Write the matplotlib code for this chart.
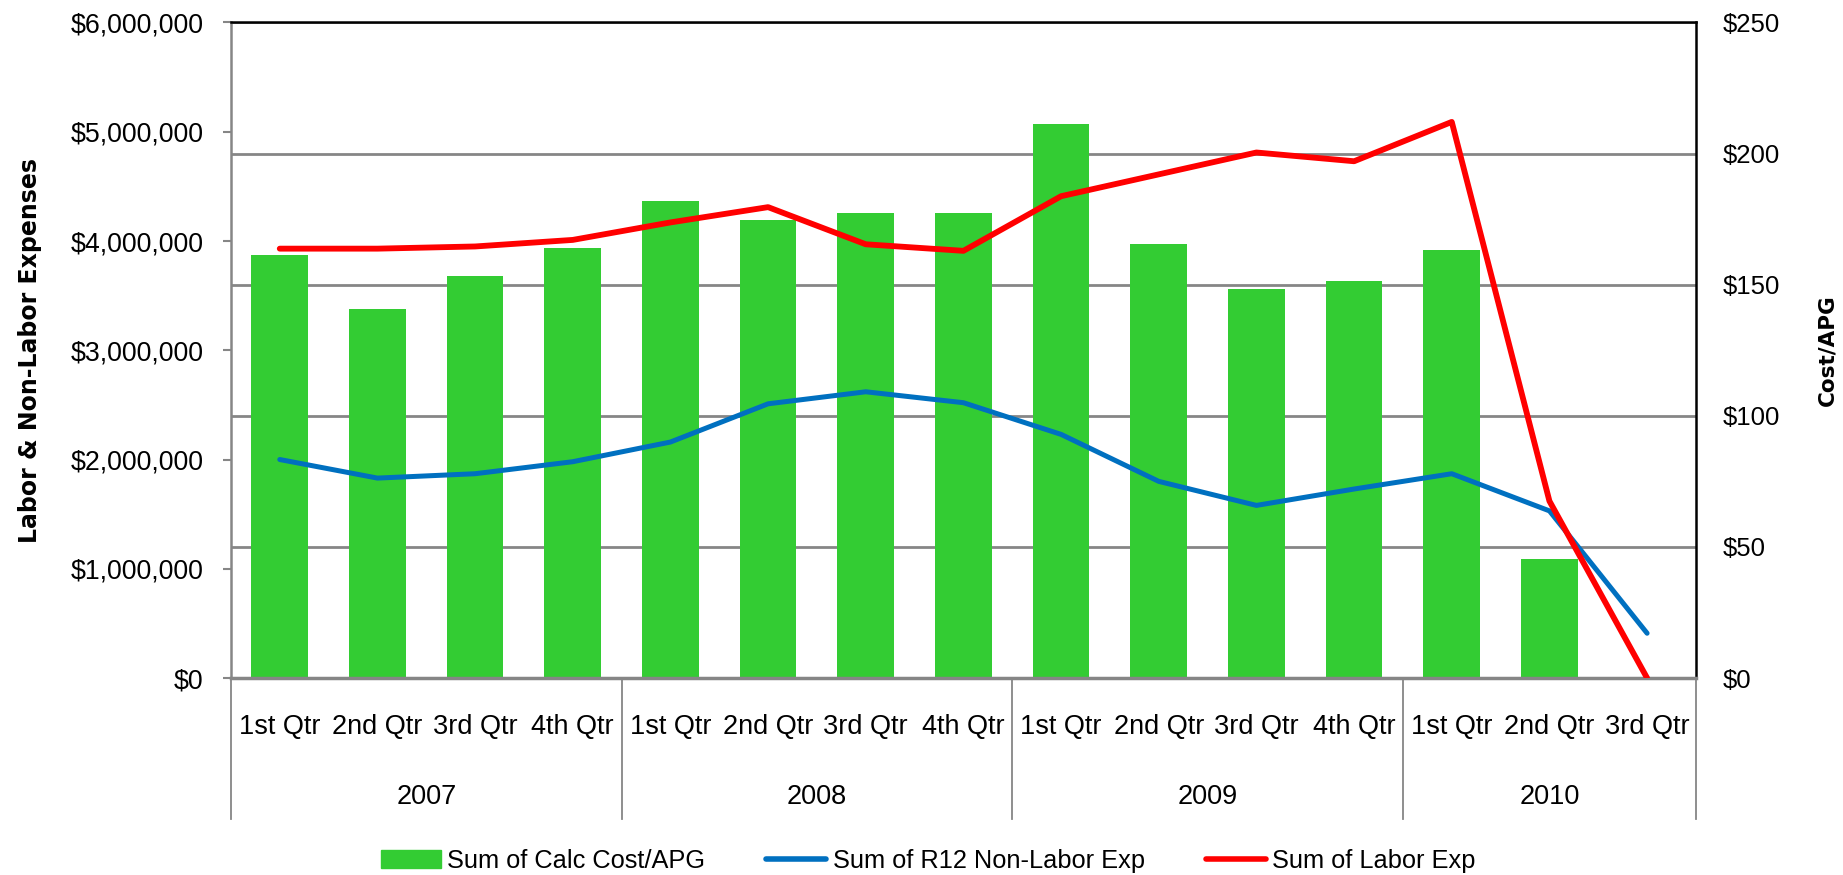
import numpy as np
import matplotlib.pyplot as plt
import matplotlib.transforms as mtransforms
from matplotlib.patches import Patch
from matplotlib.lines import Line2D

plt.rcParams['font.family'] = ['Liberation Sans', 'DejaVu Sans']

# data
years = ['2007', '2008', '2009', '2010']
year_sizes = [4, 4, 4, 3]
quarters = ['1st Qtr', '2nd Qtr', '3rd Qtr', '4th Qtr'] * 3 + ['1st Qtr', '2nd Qtr', '3rd Qtr']
cost_apg = [161.5, 140.7, 153.2, 163.9, 182.1, 174.8, 177.4, 177.4,
            211.2, 165.6, 148.2, 151.5, 163.2, 45.5, 0]
non_labor = [2.00e6, 1.83e6, 1.87e6, 1.98e6, 2.16e6, 2.51e6, 2.62e6, 2.52e6,
             2.23e6, 1.80e6, 1.58e6, 1.73e6, 1.87e6, 1.53e6, 0.41e6]
labor = [3.93e6, 3.93e6, 3.95e6, 4.01e6, 4.17e6, 4.31e6, 3.97e6, 3.91e6,
         4.41e6, 4.61e6, 4.81e6, 4.73e6, 5.09e6, 1.62e6, 0.0]

green = '#33CC33'
blue = '#0070C0'
red = '#FF0000'
gray = '#868686'

fig = plt.figure(figsize=(18.43, 8.75), dpi=100)
ax = fig.add_axes([0.1253, 0.2251, 0.7949, 0.7492])
ax2 = ax.twinx()
ax.set_zorder(2)
ax2.set_zorder(1)
ax.patch.set_visible(False)

x = np.arange(len(quarters))

# bars on the right axis
ax2.bar(x, cost_apg, width=0.58, color=green, zorder=2)
ax2.set_ylim(0, 250)
rticks = np.arange(0, 251, 50)
ax2.set_yticks(rticks)
ax2.set_yticklabels(['${:,.0f}'.format(v) for v in rticks], fontsize=18.5)
ax2.tick_params(axis='y', length=0, pad=19)
ax2.yaxis.grid(True, color=gray, lw=2)
ax2.set_axisbelow(True)
ax2.set_ylabel('Cost/APG', fontsize=15.5, fontweight='bold', family='DejaVu Sans')
ax2.yaxis.set_label_coords(1.0826, 0.5)
for s in ax2.spines.values():
    s.set_visible(False)

# lines on the left axis
ax.plot(x, non_labor, color=blue, lw=3.6, solid_capstyle='round', zorder=3)
ax.plot(x, labor, color=red, lw=4.2, solid_capstyle='round', zorder=4)
ax.set_ylim(0, 6e6)
ax.set_xlim(-0.5, len(quarters) - 0.5)
ticks = np.arange(0, 6e6 + 1, 1e6)
ax.set_yticks(ticks)
ax.set_yticklabels(['${:,.0f}'.format(v) for v in ticks], fontsize=19.3)
ax.tick_params(axis='y', length=5.8, width=1.5, color=gray, direction='out', pad=14)
ax.set_ylabel('Labor & Non-Labor Expenses', fontsize=17, fontweight='bold', family='DejaVu Sans')
ax.yaxis.set_label_coords(-0.129, 0.5)
ax.set_xticks([])
ax.spines['left'].set_color(gray)
ax.spines['left'].set_linewidth(1.8)
ax.spines['bottom'].set_color(gray)
ax.spines['bottom'].set_linewidth(2.5)
ax.spines['top'].set_color('black')
ax.spines['top'].set_linewidth(1.8)
ax.spines['right'].set_color('black')
ax.spines['right'].set_linewidth(1.8)

# multi-level category axis
trans = mtransforms.blended_transform_factory(ax.transData, ax.transAxes)
for i, q in enumerate(quarters):
    ax.text(i, -0.0748, q, transform=trans, ha='center', va='center', fontsize=19.5)
edges = np.concatenate([[0], np.cumsum(year_sizes)]) - 0.5
for yr, a, b in zip(years, edges[:-1], edges[1:]):
    ax.text((a + b) / 2, -0.1815, yr, transform=trans, ha='center', va='center', fontsize=19.5)
for e in edges:
    ax.plot([e, e], [0, -0.215], transform=trans, color=gray, lw=1.3, clip_on=False)

handles = [Patch(color=green, label='Sum of Calc Cost/APG'),
           Line2D([], [], color=blue, lw=4, solid_capstyle='round', label='Sum of R12 Non-Labor Exp'),
           Line2D([], [], color=red, lw=4, solid_capstyle='round', label='Sum of Labor Exp')]
fig.legend(handles=handles, loc='center', bbox_to_anchor=(0.5036, 0.016), ncol=3,
           frameon=False, fontsize=18.3, handlelength=2.36, handletextpad=0.25,
           columnspacing=2.4, borderpad=0.2)

fig.savefig('out.png', dpi=100)
